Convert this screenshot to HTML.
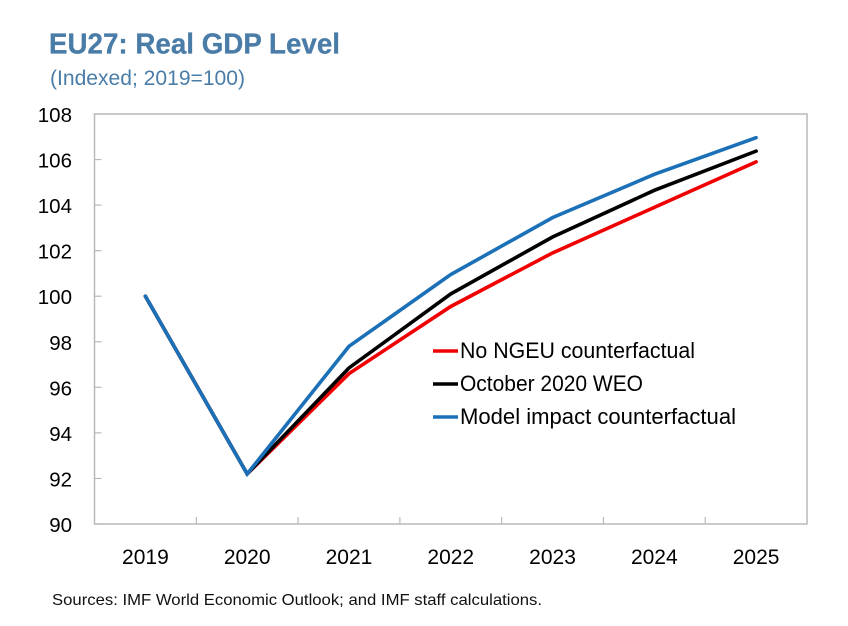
<!DOCTYPE html>
<html>
<head>
<meta charset="utf-8">
<title>EU27: Real GDP Level</title>
<style>
html,body{margin:0;padding:0;background:#fff;}
svg{display:block;font-family:"Liberation Sans",sans-serif;}
</style>
</head>
<body>
<svg id="chart" xmlns="http://www.w3.org/2000/svg" width="848" height="626" viewBox="0 0 848 626">
  <text x="49" y="53.5" font-size="29" font-weight="bold" fill="#4a7ca8" stroke="#4a7ca8" stroke-width="0.3" textLength="291" lengthAdjust="spacingAndGlyphs">EU27: Real GDP Level</text>
  <text x="50" y="85" font-size="21" fill="#4a7ca8" textLength="195" lengthAdjust="spacingAndGlyphs">(Indexed; 2019=100)</text>
  <text x="52" y="605" font-size="16" fill="#111" textLength="490" lengthAdjust="spacingAndGlyphs">Sources: IMF World Economic Outlook; and IMF staff calculations.</text>
</svg>
<script>
const categories = ['2019', '2020', '2021', '2022', '2023', '2024', '2025'];
const yTicks = [90, 92, 94, 96, 98, 100, 102, 104, 106, 108];
const noNgeu = [100, 92.2, 96.6, 99.55, 101.9, 103.9, 105.9];
const october = [100, 92.2, 96.85, 100.1, 102.6, 104.65, 106.37];
const modelImpact = [100, 92.2, 97.8, 100.95, 103.45, 105.35, 106.96];
const seriesNames = ['No NGEU counterfactual', 'October 2020 WEO', 'Model impact counterfactual'];

const svg = document.getElementById('chart');
const NS = 'http://www.w3.org/2000/svg';
const plot = { left: 94.5, right: 807, top: 114, bottom: 524 };
const yMin = yTicks[0];
const yMax = yTicks[yTicks.length - 1];
const band = (plot.right - plot.left) / categories.length;
const xScale = i => plot.left + band * (i + 0.5);
const yScale = v => plot.bottom - (v - yMin) / (yMax - yMin) * (plot.bottom - plot.top);

function make(tag, attrs) {
  const el = document.createElementNS(NS, tag);
  for (const k in attrs) el.setAttribute(k, attrs[k]);
  svg.appendChild(el);
  return el;
}

const frame = make('rect', { x: plot.left, y: plot.top, width: plot.right - plot.left, height: plot.bottom - plot.top, fill: 'none', stroke: '#b9b9b9', 'stroke-width': 1.5 });



yTicks.forEach(t => {
  const y = yScale(t);
  const tick = make('line', { x1: plot.left, x2: plot.left + 7, y1: y, y2: y, stroke: '#b9b9b9', 'stroke-width': 1.2 });
  
  
  const label = make('text', { x: 72, y: y + 8, 'text-anchor': 'end', 'font-size': 20.5, fill: '#000' });
  
  
  label.textContent = t;
});

categories.forEach((c, i) => {
  if (i > 0) {
    const x = plot.left + band * i;
    const tick = make('line', { x1: x, x2: x, y1: plot.bottom, y2: plot.bottom - 7, stroke: '#b9b9b9', 'stroke-width': 1.2 });
    
    
  }
  const label = make('text', { x: xScale(i), y: 564, 'text-anchor': 'middle', 'font-size': 21, fill: '#000' });
  
  
  label.textContent = c;
});

function drawSeries(values, color, name) {
  const pts = values.map((v, i) => xScale(i) + ',' + yScale(v)).join(' ');
  const line = make('polyline', { points: pts, fill: 'none', stroke: color, 'stroke-width': 3.6, 'stroke-linejoin': 'miter', 'stroke-linecap': 'round' });
  
  
}
drawSeries(noNgeu, '#f00000', 'no-ngeu-line');
drawSeries(october, '#000000', 'october-weo-line');
drawSeries(modelImpact, '#1c70b8', 'model-impact-line');

const legendColors = ['#f00000', '#000000', '#1c70b8'];
const legendWidths = [235, 183, 276];
seriesNames.forEach((n, i) => {
  const y = 351 + i * 33;
  const key = make('line', { x1: 433, x2: 458, y1: y, y2: y, stroke: legendColors[i], 'stroke-width': 3.6 });
  
  
  const label = make('text', { x: 460, y: y + 7, 'font-size': 22, fill: '#000', textLength: legendWidths[i], lengthAdjust: 'spacingAndGlyphs' });
  
  
  label.textContent = n;
});
</script>
</body>
</html>
